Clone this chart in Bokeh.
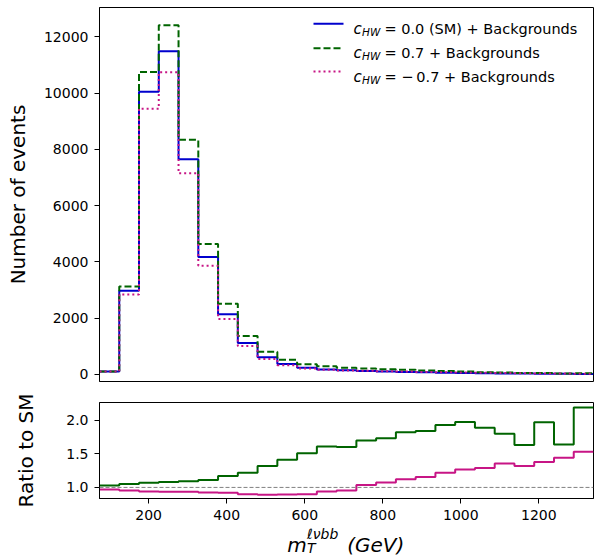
from bokeh.plotting import figure
from bokeh.layouts import column
from bokeh.models import Range1d, Label, Arrow, Span, FixedTicker, PrintfTickFormatter
from bokeh.embed import file_html
from bokeh.resources import INLINE

# ---- data ----
bin_edges = [74.0, 124.64, 175.28, 225.92, 276.56, 327.2, 377.84, 428.48, 479.12,
             529.76, 580.4, 631.04, 681.68, 732.32, 782.96, 833.6, 884.24, 934.88,
             985.52, 1036.16, 1086.8, 1137.44, 1188.08, 1238.72, 1289.36, 1340.0]

sm_counts = [105, 2980, 10050, 11490, 7650, 4175, 2145, 1120, 615, 370, 240, 180,
             150, 125, 105, 92, 75, 62, 52, 44, 37, 31, 26, 22, 19]
pos_counts = [108, 3130, 10755, 12410, 8340, 4635, 2510, 1365, 812, 522, 362, 290,
              240, 212, 182, 167, 138, 120, 103, 83, 67, 51, 51, 36, 42]
neg_counts = [102, 2846, 9447, 10743, 7153, 3862, 1973, 1008, 547, 331, 216, 169,
              143, 129, 113, 103, 87, 76, 66, 57, 50, 41, 36, 32, 29]

ratio_pos = [1.03, 1.05, 1.07, 1.08, 1.09, 1.11, 1.17, 1.22, 1.32, 1.41, 1.51, 1.61,
             1.60, 1.70, 1.73, 1.82, 1.84, 1.93, 1.975, 1.89, 1.80, 1.63, 1.97, 1.64, 2.19]
ratio_neg = [0.97, 0.955, 0.94, 0.935, 0.935, 0.925, 0.92, 0.90, 0.89, 0.895, 0.90, 0.94,
             0.955, 1.035, 1.075, 1.12, 1.155, 1.22, 1.265, 1.29, 1.355, 1.32, 1.38, 1.44, 1.53]

y_ticks_main = [0, 2000, 4000, 6000, 8000, 10000, 12000]
y_ticks_ratio = [1.0, 1.5, 2.0]
x_ticks = [200, 400, 600, 800, 1000, 1200]

legend_texts = ["= 0.0 (SM) + Backgrounds", "= 0.7 + Backgrounds",
                "= \u2212\u20090.7 + Backgrounds"]

BLUE = "#0000CD"
GREEN = "#006400"
PINK = "#C71585"
FONT = "DejaVu Sans"


def stepy(v):
    return list(v) + [v[-1]]


def style(p):
    p.grid.visible = False
    p.outline_line_color = "black"
    p.outline_line_width = 1
    p.background_fill_color = "white"
    p.border_fill_color = "white"
    for ax in p.axis:
        ax.axis_line_color = "black"
        ax.major_tick_line_color = "black"
        ax.major_tick_out = 5
        ax.major_tick_in = 0
        ax.minor_tick_line_color = None
        ax.major_label_text_font = FONT
        ax.major_label_text_font_size = "14px"
        ax.major_label_text_color = "black"
        ax.major_label_standoff = 6
        ax.axis_label_text_font = FONT
        ax.axis_label_text_font_size = "20px"
        ax.axis_label_text_font_style = "normal"
        ax.axis_label_text_color = "black"


x_range = Range1d(bin_edges[0], bin_edges[-1])

# ---- top panel ----
p1 = figure(width=602, height=391, x_range=x_range, y_range=Range1d(-250, 13045),
            output_backend="svg", toolbar_location=None,
            min_border_left=99, min_border_right=9, min_border_top=7, min_border_bottom=10)
p1.step(bin_edges, stepy(sm_counts), mode="after", line_color=BLUE, line_width=2)
p1.step(bin_edges, stepy(pos_counts), mode="after", line_color=GREEN, line_width=2,
        line_dash="7 3")
p1.step(bin_edges, stepy(neg_counts), mode="after", line_color=PINK, line_width=2,
        line_dash="2 3")
style(p1)
p1.xaxis.visible = False
p1.yaxis.ticker = FixedTicker(ticks=y_ticks_main)
p1.yaxis.axis_label = "Number of events"
p1.yaxis.axis_label_standoff = 11

# manual legend (screen units relative to the frame's bottom-left corner)
rows = [(BLUE, None, 357.7), (GREEN, "7 3", 333.3), (PINK, "2 3", 310.0)]
for (color, dash, ry), txt in zip(rows, legend_texts):
    kw = dict(line_dash=dash) if dash else {}
    p1.add_layout(Arrow(x_start=214, y_start=ry, x_end=244, y_end=ry,
                        start_units="screen", end_units="screen", start=None, end=None,
                        line_color=color, line_width=2, **kw))
    p1.add_layout(Label(x=254, y=ry - 5, x_units="screen", y_units="screen", text="c",
                        text_font=FONT, text_font_style="italic", text_font_size="15px",
                        text_color="black", text_baseline="alphabetic"))
    p1.add_layout(Label(x=262.5, y=ry - 8, x_units="screen", y_units="screen", text="HW",
                        text_font=FONT, text_font_style="italic", text_font_size="10.5px",
                        text_color="black", text_baseline="alphabetic"))
    p1.add_layout(Label(x=285, y=ry - 5, x_units="screen", y_units="screen", text=txt,
                        text_font=FONT, text_font_size="14.5px",
                        text_color="black", text_baseline="alphabetic"))

# ---- ratio panel ----
p2 = figure(width=602, height=135, x_range=x_range, y_range=Range1d(0.835, 2.264),
            output_backend="svg", toolbar_location=None,
            min_border_left=99, min_border_right=9, min_border_top=11, min_border_bottom=28)
p2.add_layout(Span(location=1.0, dimension="width", line_color="gray",
                   line_dash="4 2", line_width=1))
p2.step(bin_edges, stepy(ratio_pos), mode="after", line_color=GREEN, line_width=2)
p2.step(bin_edges, stepy(ratio_neg), mode="after", line_color=PINK, line_width=2)
style(p2)
p2.xaxis.ticker = FixedTicker(ticks=x_ticks)
p2.xaxis.major_label_standoff = 6
p2.yaxis.ticker = FixedTicker(ticks=y_ticks_ratio)
p2.yaxis.formatter = PrintfTickFormatter(format="%.1f")
p2.yaxis.axis_label = "Ratio to SM"
p2.yaxis.axis_label_standoff = 25

# ---- x-axis title strip (frame aligned with the panels above) ----
p3 = figure(width=602, height=30, x_range=Range1d(0, 494), y_range=Range1d(0, 30),
            output_backend="svg", toolbar_location=None,
            min_border_left=99, min_border_right=9, min_border_top=0, min_border_bottom=0)
p3.axis.visible = False
p3.grid.visible = False
p3.outline_line_color = None
p3.background_fill_color = "white"
p3.border_fill_color = "white"
lab = dict(x_units="screen", y_units="screen", text_font=FONT, text_font_style="italic",
           text_color="black", text_baseline="alphabetic")
p3.add_layout(Label(x=187.7, y=12.0, text="m", text_font_size="20px", **lab))
p3.add_layout(Label(x=207.5, y=9.0, text="T", text_font_size="14px", **lab))
p3.add_layout(Label(x=207.5, y=23.0, text="\u2113\u03bdbb\u0304", text_font_size="14px", **lab))
p3.add_layout(Label(x=247.7, y=12.0, text="(GeV)", text_font_size="20px", **lab))

layout = column(p1, p2, p3)
open("out.html", "w").write(file_html(layout, INLINE))
